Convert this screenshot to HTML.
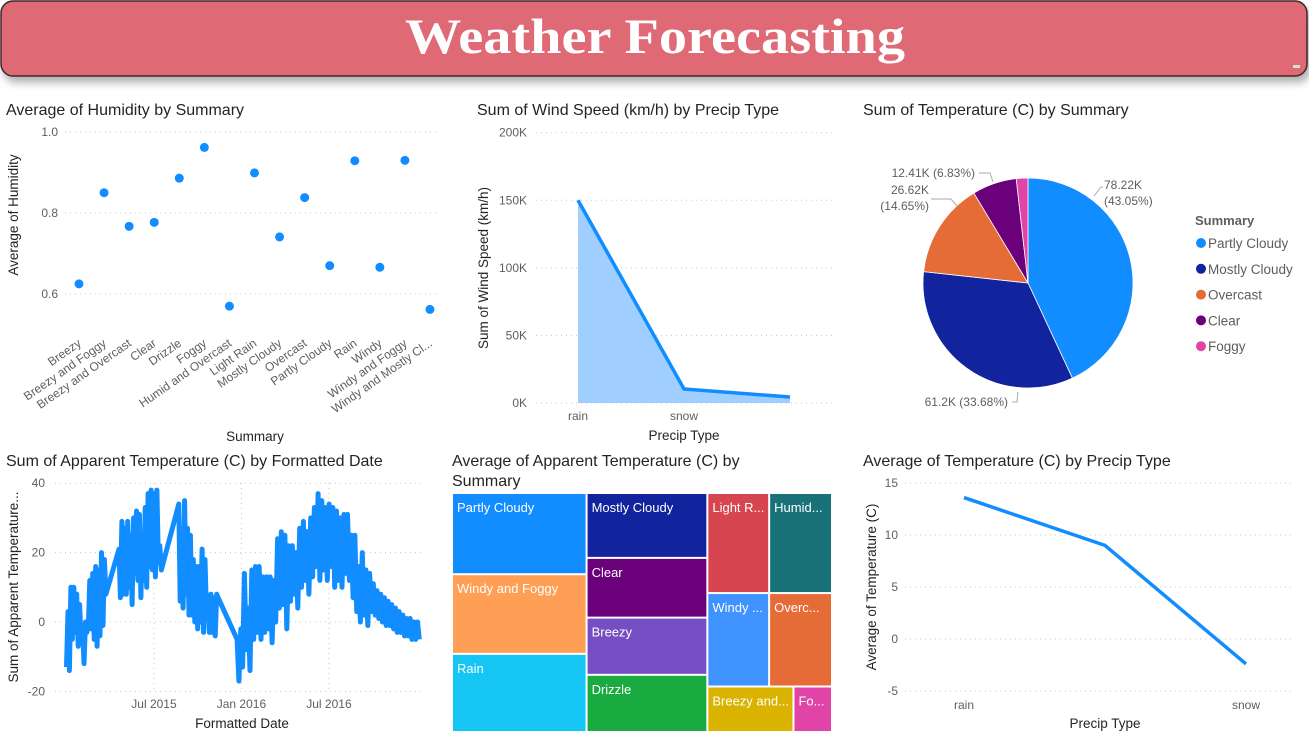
<!DOCTYPE html>
<html><head><meta charset="utf-8"><style>
body{margin:0;background:#fff;width:1309px;height:735px;overflow:hidden;font-family:"Liberation Sans","DejaVu Sans",sans-serif}
svg text{font-family:"Liberation Sans","DejaVu Sans",sans-serif}
.t{font-size:16px;fill:#252423}
.tk{font-size:12px;fill:#605E5C}
.ax{font-size:13.5px;fill:#252423}
.g{stroke:#C8C6C4;stroke-width:1;stroke-dasharray:1 4}
</style></head><body>
<svg id="root" width="1309" height="735" xmlns="http://www.w3.org/2000/svg">
<defs><filter id="sh" x="-5%" y="-20%" width="110%" height="160%"><feDropShadow dx="3" dy="6" stdDeviation="4" flood-color="#000" flood-opacity="0.3"/></filter></defs>
<g>
<rect x="1" y="1" width="1306" height="75" rx="12" fill="#DF6B74" stroke="#3a2a2a" stroke-width="1.5" filter="url(#sh)"/>
<text x="655" y="53" text-anchor="middle" style="font-family:'Liberation Serif',serif;font-weight:bold;font-size:50px" fill="#fff" textLength="500" lengthAdjust="spacingAndGlyphs">Weather Forecasting</text>
<rect x="1293" y="65" width="7" height="3" fill="#ddd"/>
</g>
<g id="hum"></g>
<g id="wind"></g>
<g id="pie"></g>
<g id="app"></g>
<g id="tree"></g>
<g id="avg"></g>
</svg>
<script>
// ---- data ----
const humCats=["Breezy","Breezy and Foggy","Breezy and Overcast","Clear","Drizzle","Foggy","Humid and Overcast","Light Rain","Mostly Cloudy","Overcast","Partly Cloudy","Rain","Windy","Windy and Foggy","Windy and Mostly Cl..."];
const humVals=[0.625,0.85,0.767,0.777,0.886,0.962,0.57,0.899,0.741,0.838,0.67,0.929,0.666,0.93,0.562];
const humTicks=[0.6,0.8,1.0];
const windCats=["rain","snow",""];
const windVals=[150,10.4,4.4];
const windTicks=[0,50,100,150,200];
const pieCats=["Partly Cloudy","Mostly Cloudy","Overcast","Clear","Foggy"];
const pieVals=[78.22,61.2,26.62,12.41,3.25];
const pieColors=["#118DFF","#12239E","#E66C37","#6B007B","#E044A7"];
const avgCats=["rain","","snow"];
const avgVals=[13.6,9.0,-2.4];
const avgTicks=[-5,0,5,10,15];
const appTicks=[-20,0,20,40];
const appDateTicks=["Jul 2015","Jan 2016","Jul 2016"];
const appDateTickMonths=[6,12,18];
const segStart=[0,3.6,7.7,11.7];
const segEnd=[2.7,6.5,10.4,24.2];
const seg1=[-13,3,-14,10,-5,10,-3,8,-7,5,-6,-1,-12,0,-3,-1,12,-2,14,-5,16,-7,15,-4,20,-1,18,8];
const seg2=[21,7,29,8,27,8,29,10,25,5,30,14,32,12,31,7,25,12,33,10,37,16,38,15,37,13,38,17,22,15];
const seg3=[34,6,27,4,35,8,27,2,25,2,18,0,16,-2,16,0,21,-3,18,2,6,-3,8,-3,7,-4,8,7];
const seg4=[-5,-17,-2,-13,14,-8,4,-14,15,-5,16,-3,16,-5,13,-3,13,-2,13,-6,12,0,24,4,26,5,25,-2,22,6,22,8,20,4,27,10,29,12,26,8,30,13,33,16,37,12,35,15,33,12,34,16,33,10,32,12,30,10,31,14,31,12,25,7,25,3,16,0,20,2,15,-1,14,3,11,2,9,1,8,0,7,-1,6,-1,5,-2,4,-3,3,-3,2,-4,1,-4,1,-5,0,-5,0,-5];
const treeNames=["Partly Cloudy","Windy and Foggy","Rain","Mostly Cloudy","Clear","Breezy","Drizzle","Light R...","Humid...","Windy ...","Overc...","Breezy and...","Fo..."];
const treeVals=[106,104,102,76,70,67,67,60,61,56,57,38,17];
const treeColors=["#118DFF","#FE9F55","#15C6F4","#12239E","#6B007B","#744EC2","#1AAB40","#D64550","#197278","#4092FF","#E66C37","#D9B300","#E044A7"];
// ---- helpers ----
const NS="http://www.w3.org/2000/svg";
function mk(parent,tag,attrs,txt){const e=document.createElementNS(NS,tag);for(const k in attrs)e.setAttribute(k,attrs[k]);if(txt!==undefined)e.textContent=txt;parent.appendChild(e);return e;}
function nm(e,n,i){
return e;}
// ---- humidity scatter ----
(function(){const g=document.getElementById('hum');
const y=v=>132+(1.0-v)*405, x=i=>79+i*25.07;
nm(mk(g,'text',{x:6,y:115,class:'t'},'Average of Humidity by Summary'),'chart-title');
humTicks.forEach(t=>{nm(mk(g,'line',{x1:65,x2:440,y1:y(t),y2:y(t),class:'g'}),'gridline');
nm(mk(g,'text',{x:58,y:y(t)+4,'text-anchor':'end',class:'tk'},t.toFixed(1)),'y-tick-label');});
nm(mk(g,'text',{x:0,y:0,class:'ax',transform:'translate(18,215) rotate(-90)','text-anchor':'middle'},'Average of Humidity'),'y-axis-title');
humCats.forEach((c,i)=>{nm(mk(g,'circle',{cx:x(i),cy:y(humVals[i]),r:4.5,fill:'#118DFF'}),'scatter-point',true);
nm(mk(g,'text',{x:0,y:0,class:'tk','text-anchor':'end',transform:`translate(${x(i)+3},${345}) rotate(-35)`},c),'x-tick-label');});
nm(mk(g,'text',{x:255,y:441,class:'ax','text-anchor':'middle'},'Summary'),'x-axis-title');})();
// ---- wind area ----
(function(){const g=document.getElementById('wind');
const y=v=>403-v*1.3515, x=i=>578+i*106;
nm(mk(g,'text',{x:477,y:115,class:'t'},'Sum of Wind Speed (km/h) by Precip Type'),'chart-title');
windTicks.forEach(t=>{nm(mk(g,'line',{x1:536,x2:832,y1:y(t),y2:y(t),class:'g'}),'gridline');
nm(mk(g,'text',{x:527,y:y(t)+4,'text-anchor':'end',class:'tk'},t+'K'),'y-tick-label');});
let pts=windVals.map((v,i)=>x(i)+','+y(v)).join(' ');
nm(mk(g,'polygon',{points:x(0)+','+y(0)+' '+pts+' '+x(windVals.length-1)+','+y(0),fill:'#A0CFFF'}),'area-fill');
nm(mk(g,'polyline',{points:pts,fill:'none',stroke:'#118DFF','stroke-width':3.5}),'area-line',true);
windCats.forEach((c,i)=>nm(mk(g,'text',{x:x(i),y:420,'text-anchor':'middle',class:'tk'},c),'x-tick-label'));
nm(mk(g,'text',{x:0,y:0,class:'ax',transform:'translate(488,268) rotate(-90)','text-anchor':'middle'},'Sum of Wind Speed (km/h)'),'y-axis-title');
nm(mk(g,'text',{x:684,y:440,class:'ax','text-anchor':'middle'},'Precip Type'),'x-axis-title');})();
// ---- pie ----
(function(){const g=document.getElementById('pie');const cx=1028,cy=283,r=105;
nm(mk(g,'text',{x:863,y:115,class:'t'},'Sum of Temperature (C) by Summary'),'chart-title');
const tot=pieVals.reduce((a,b)=>a+b,0);let a0=0;
pieVals.forEach((v,i)=>{const a1=a0+v/tot*2*Math.PI;
const p=(a)=>[cx+r*Math.sin(a),cy-r*Math.cos(a)];const s=p(a0),e=p(a1);
nm(mk(g,'path',{d:`M${cx},${cy}L${s[0]},${s[1]}A${r},${r} 0 ${a1-a0>Math.PI?1:0} 1 ${e[0]},${e[1]}Z`,fill:pieColors[i],stroke:'#fff','stroke-width':0.8}),'pie-slice-'+pieCats[i].toLowerCase().replace(/ /g,'-'),true);a0=a1;});
const lab=[[1104,189,'start',['78.22K','(43.05%)']],[1008,406,'end',['61.2K (33.68%)']],[929,194,'end',['26.62K','(14.65%)']],[975,177,'end',['12.41K (6.83%)']]];
lab.forEach(l=>{l[3].forEach((s,j)=>nm(mk(g,'text',{x:l[0],y:l[1]+j*16,'text-anchor':l[2],class:'tk'},s),'data-label'));});
mk(g,'polyline',{points:'1094,196 1101,187 1103,187',fill:'none',stroke:'#aaa'});
mk(g,'polyline',{points:'1012,402 1017,402 1018,392',fill:'none',stroke:'#aaa'});
mk(g,'polyline',{points:'931,199 951,199 957,206',fill:'none',stroke:'#aaa'});
mk(g,'polyline',{points:'979,173 990,173 993,182',fill:'none',stroke:'#aaa'});
nm(mk(g,'text',{x:1195,y:225,style:'font-size:13px;font-weight:bold',fill:'#605E5C'},'Summary'),'legend-title');
pieCats.forEach((c,i)=>{const ly=243+i*25.8;const e=nm(mk(g,'g',{}),'legend-entry',true);
mk(e,'circle',{cx:1201,cy:ly,r:5,fill:pieColors[i]});mk(e,'text',{x:1208,y:ly+5,style:'font-size:13.5px',fill:'#605E5C'},c);});})();
// ---- apparent temp ----
(function(){const g=document.getElementById('app');
const y=v=>622-v*3.47, x=m=>66.5+m*14.58;
nm(mk(g,'text',{x:6,y:466,class:'t'},'Sum of Apparent Temperature (C) by Formatted Date'),'chart-title');
appTicks.forEach(t=>{nm(mk(g,'line',{x1:55,x2:425,y1:y(t),y2:y(t),class:'g'}),'gridline');
nm(mk(g,'text',{x:45,y:y(t)+4,'text-anchor':'end',class:'tk'},t),'y-tick-label');});
appDateTicks.forEach((t,i)=>{const xx=x(appDateTickMonths[i]);nm(mk(g,'line',{x1:xx,x2:xx,y1:483,y2:691,class:'g'}),'gridline');
nm(mk(g,'text',{x:xx,y:708,'text-anchor':'middle',class:'tk'},t),'x-tick-label');});
const segs=[seg1,seg2,seg3,seg4];let pts=[];
segs.forEach((s,k)=>{s.forEach((v,i)=>{const m=segStart[k]+(segEnd[k]-segStart[k])*i/(s.length-1);pts.push(x(m).toFixed(1)+','+y(v).toFixed(1));});});
nm(mk(g,'polyline',{points:pts.join(' '),fill:'none',stroke:'#118DFF','stroke-width':5,'stroke-linejoin':'round'}),'temperature-line',true);
nm(mk(g,'text',{x:0,y:0,class:'ax',transform:'translate(18,587) rotate(-90)','text-anchor':'middle'},'Sum of Apparent Temperature...'),'y-axis-title');
nm(mk(g,'text',{x:242,y:728,class:'ax','text-anchor':'middle'},'Formatted Date'),'x-axis-title');})();
// ---- treemap ----
(function(){const g=document.getElementById('tree');
nm(mk(g,'text',{x:452,y:466,class:'t'},'Average of Apparent Temperature (C) by'),'chart-title');
nm(mk(g,'text',{x:452,y:486,class:'t'},'Summary'),'chart-title-line2');
const X0=452,Y0=493,W=380,H=239;
const layout=[[[0],[1],[2]],[[3],[4],[5],[6]],[[7,8],[9,10],[11,12]]];
const sum=a=>a.reduce((s,i)=>s+treeVals[i],0);
const total=sum(treeVals.map((_,i)=>i));let cx=X0;
layout.forEach(col=>{const cs=col.reduce((s,r)=>s+sum(r),0);const cw=W*cs/total;let cy=Y0;
col.forEach(row=>{const rs=sum(row);const rh=H*rs/cs;let rx=cx;
row.forEach(i=>{const w=cw*treeVals[i]/rs;
const e=nm(mk(g,'g',{}),'treemap-tile',true);
mk(e,'rect',{x:rx+1,y:cy+1,width:w-2,height:rh-2,fill:treeColors[i]});
mk(e,'text',{x:rx+5,y:cy+19,fill:'#fff',style:'font-size:13px'},treeNames[i]);rx+=w;});cy+=rh;});cx+=cw;});})();
// ---- avg temp line ----
(function(){const g=document.getElementById('avg');
const y=v=>639-v*10.4, x=i=>964+i*141;
nm(mk(g,'text',{x:863,y:466,class:'t'},'Average of Temperature (C) by Precip Type'),'chart-title');
avgTicks.forEach(t=>{nm(mk(g,'line',{x1:905,x2:1292,y1:y(t),y2:y(t),class:'g'}),'gridline');
nm(mk(g,'text',{x:898,y:y(t)+4,'text-anchor':'end',class:'tk'},t),'y-tick-label');});
nm(mk(g,'polyline',{points:avgVals.map((v,i)=>x(i)+','+y(v)).join(' '),fill:'none',stroke:'#118DFF','stroke-width':3.5}),'avg-temp-line',true);
avgCats.forEach((c,i)=>nm(mk(g,'text',{x:x(i),y:709,'text-anchor':'middle',class:'tk'},c),'x-tick-label'));
nm(mk(g,'text',{x:0,y:0,class:'ax',transform:'translate(876,587) rotate(-90)','text-anchor':'middle'},'Average of Temperature (C)'),'y-axis-title');
nm(mk(g,'text',{x:1105,y:728,class:'ax','text-anchor':'middle'},'Precip Type'),'x-axis-title');})();
</script>
</body></html>
